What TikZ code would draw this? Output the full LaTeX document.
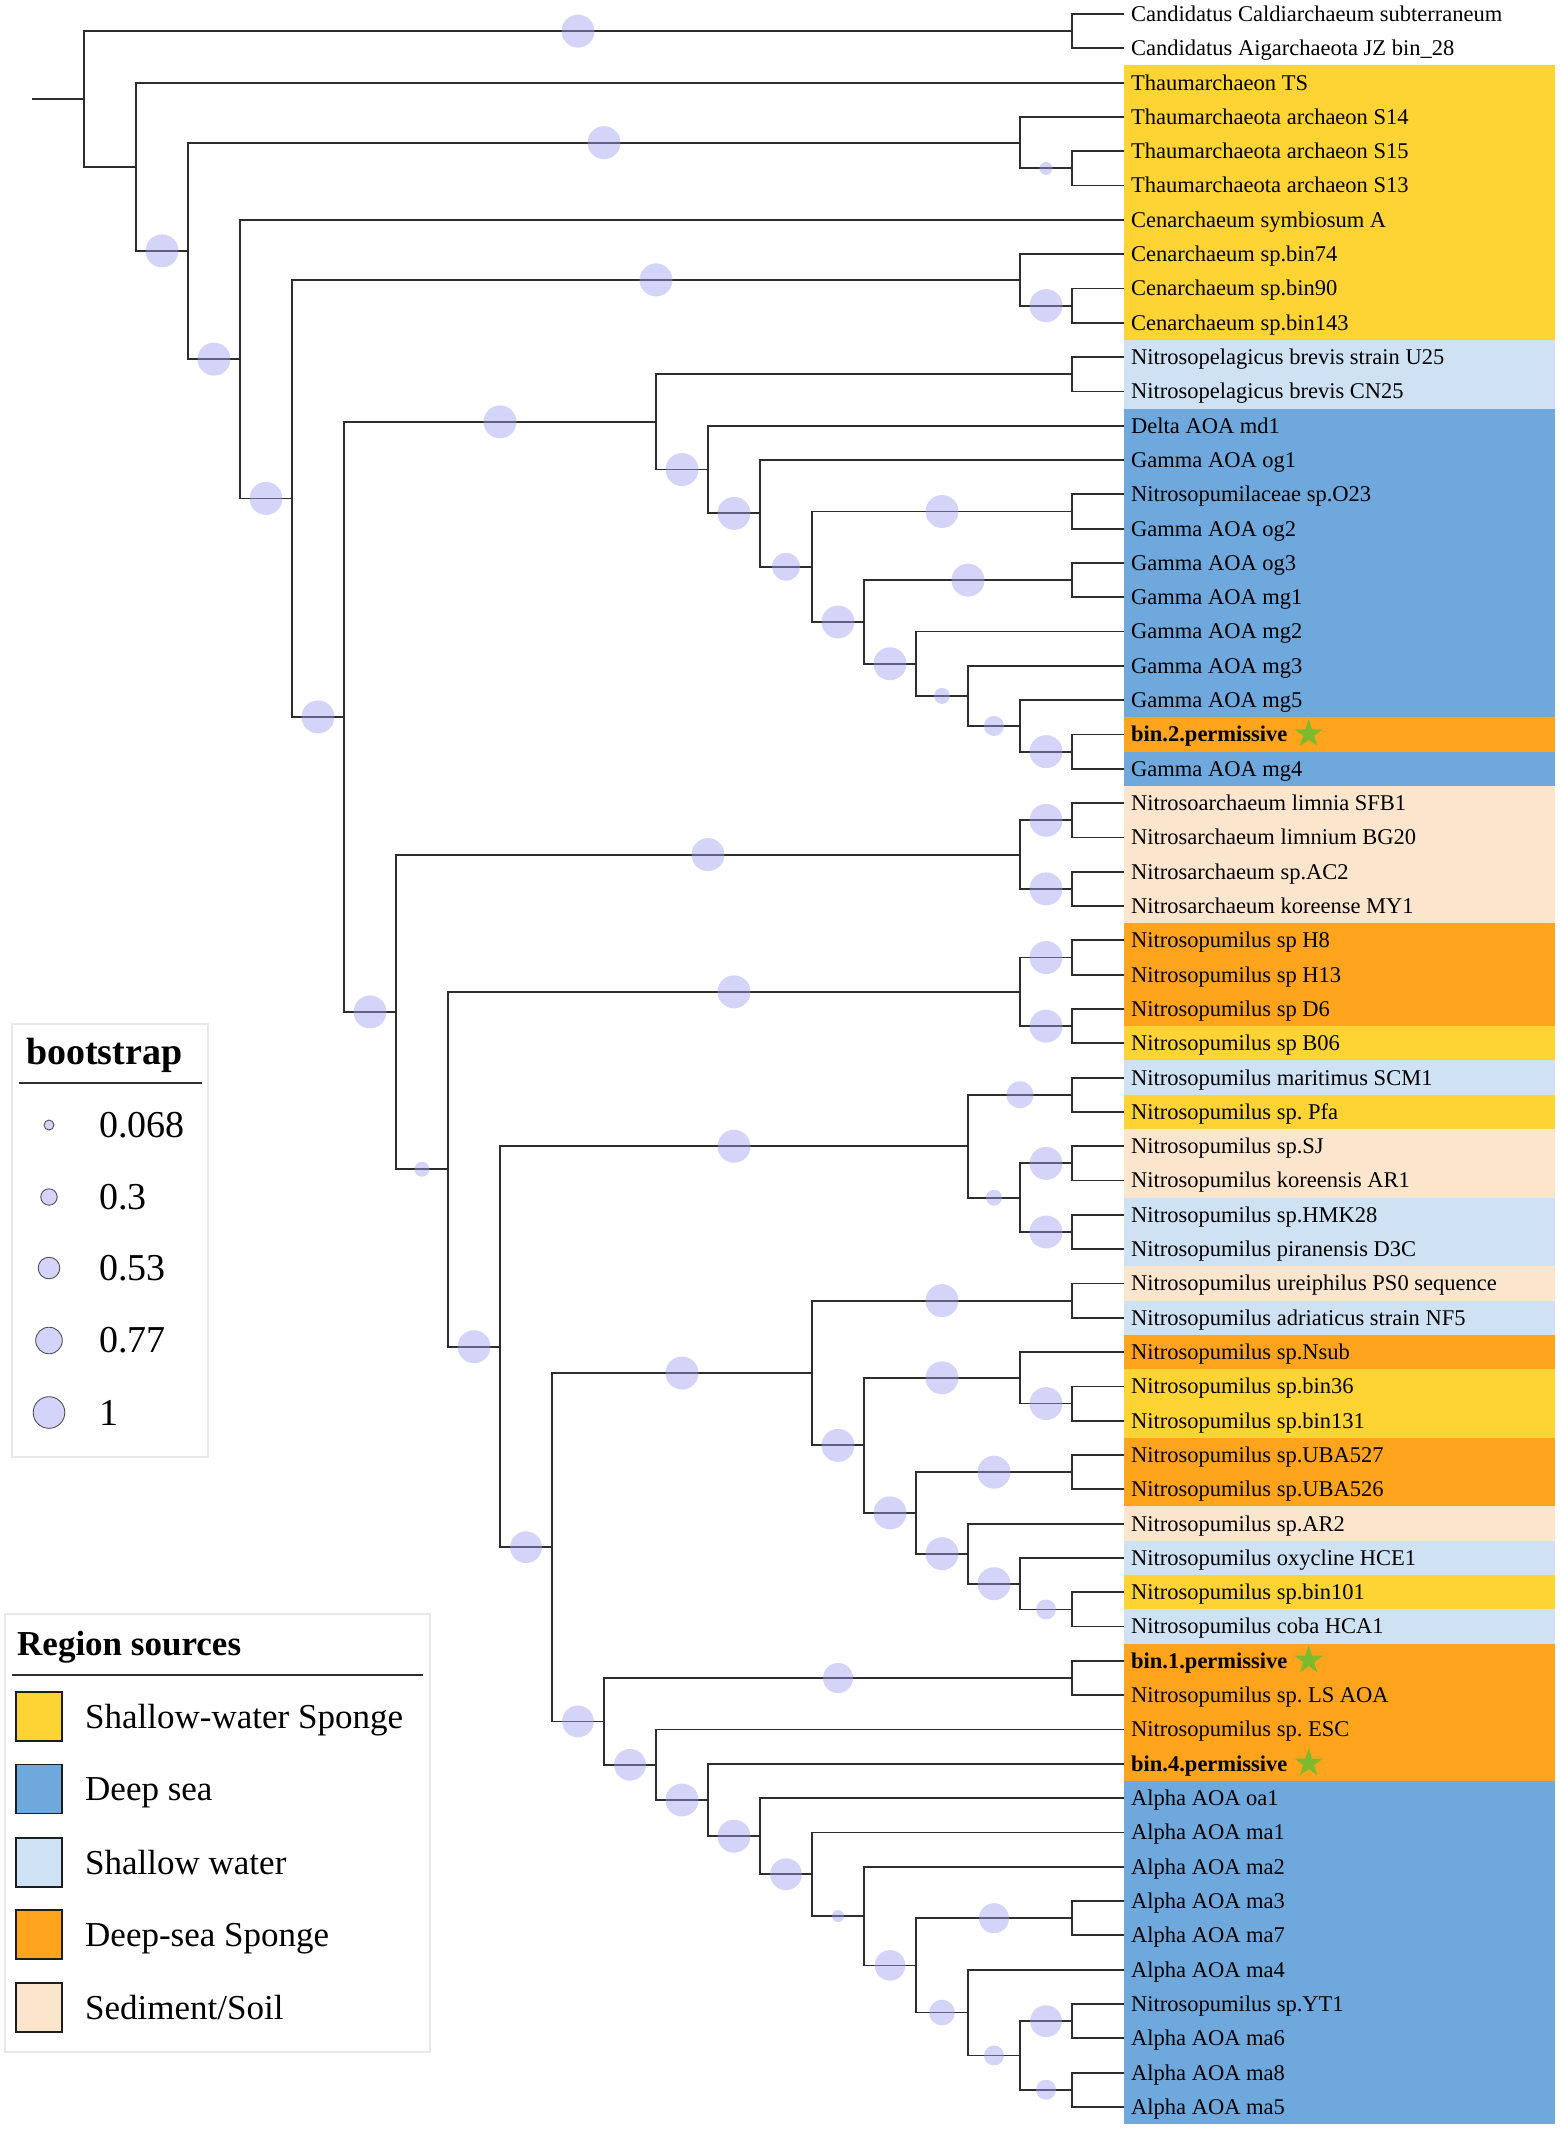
\documentclass[tikz,border=0pt]{standalone}
\usepackage{fontspec}
\setmainfont{Liberation Serif}
\frenchspacing
\usetikzlibrary{calc,shapes.geometric}
\definecolor{sws}{RGB}{254,211,52}
\definecolor{dps}{RGB}{111,168,220}
\definecolor{shw}{RGB}{207,226,243}
\definecolor{dsp}{RGB}{255,164,28}
\definecolor{sed}{RGB}{252,229,205}
\definecolor{brc}{RGB}{45,45,45}
\definecolor{bootf}{RGB}{160,160,240}
\definecolor{legc}{RGB}{212,212,250}
\definecolor{starg}{RGB}{125,186,46}
\definecolor{boxg}{RGB}{232,232,232}
\newcommand\leafpt[1]{\coordinate (l#1) at (1124,{14+(#1-1)*34.31});}
\newcommand\inode[4]{\path let \p1=(#3), \p2=(#4) in ({(32+52*#2)*1pt},{0.5*(\y1+\y2)}) coordinate (#1);}
\newcommand\tedge[2]{\draw[branch] (#1) |- (#2);}
\newcommand\bsc[3]{\node[bootcirc, minimum size={2*(4.5+12*#3)}] (b#2) at ($(#1 |- #2)!0.5!(#2)$) {};}
\newcommand\bandrow[3]{\fill[#3] (1124,{14+(#1-1)*34.31-17.16}) rectangle (1555,{14+(#2-1)*34.31+17.16});}
\newcommand\leaflabel[2]{\node[leaflab] (t#1) at ([xshift=7pt,yshift=-7.4pt]l#1) {#2};}
\newcommand\binlabel[2]{\node[leaflab,font=\fontsize{22.5}{26}\selectfont\bfseries] (t#1) at ([xshift=7pt,yshift=-7.4pt]l#1) {#2};
  \node[starmark] (s#1) at ([xshift=21pt,yshift=8pt]t#1.base east) {};}
\tikzset{
  branch/.style={line width=1.8pt, draw=brc},
  bootcirc/.style={circle, inner sep=0pt, fill=bootf, fill opacity=0.45, draw=none},
  leaflab/.style={anchor=base west, inner sep=0pt, font=\fontsize{22.5}{26}\selectfont},
  starmark/.style={star, star points=5, star point ratio=2.6, fill=starg, draw=none, minimum size=30pt, inner sep=0pt},
  legcirc/.style={circle, inner sep=0pt, fill=legc, draw={rgb,255:red,80;green,80;blue,80}, line width=0.9pt},
  legtxt/.style={anchor=west, inner sep=0pt, font=\fontsize{38}{44}\selectfont},
  swatch/.style={minimum width=46pt, minimum height=49pt, inner sep=0pt, draw={rgb,255:red,30;green,30;blue,30}, line width=1.5pt},
  regtxt/.style={anchor=base west, inner sep=0pt, font=\fontsize{35}{40}\selectfont},
  legbox/.style={draw=boxg, line width=1.5pt}
}
\begin{document}
\begin{tikzpicture}[x=1pt,y=-1pt]
\useasboundingbox (0,0) rectangle (1559,2130);
% leaves
\foreach \i in {1,...,62} {\leafpt{\i}}
% internal nodes (bottom-up)
\inode{nA}{20}{l1}{l2}
\inode{nE}{20}{l5}{l6}
\inode{nD}{19}{l4}{nE}
\inode{nI}{20}{l9}{l10}
\inode{nH}{19}{l8}{nI}
\inode{nL}{20}{l11}{l12}
\inode{nP}{20}{l15}{l16}
\inode{nR}{20}{l17}{l18}
\inode{nV}{20}{l22}{l23}
\inode{nU}{19}{l21}{nV}
\inode{nT}{18}{l20}{nU}
\inode{nS}{17}{l19}{nT}
\inode{nQ}{16}{nR}{nS}
\inode{nO}{15}{nP}{nQ}
\inode{nN}{14}{l14}{nO}
\inode{nM}{13}{l13}{nN}
\inode{nK}{12}{nL}{nM}
\inode{nY}{20}{l24}{l25}
\inode{nZ}{20}{l26}{l27}
\inode{nX}{19}{nY}{nZ}
\inode{nAC}{20}{l28}{l29}
\inode{nAD}{20}{l30}{l31}
\inode{nAB}{19}{nAC}{nAD}
\inode{nAG}{20}{l32}{l33}
\inode{nAI}{20}{l34}{l35}
\inode{nAJ}{20}{l36}{l37}
\inode{nAH}{19}{nAI}{nAJ}
\inode{nAF}{18}{nAG}{nAH}
\inode{nAM}{20}{l38}{l39}
\inode{nAP}{20}{l41}{l42}
\inode{nAO}{19}{l40}{nAP}
\inode{nAR}{20}{l43}{l44}
\inode{nAU}{20}{l47}{l48}
\inode{nAT}{19}{l46}{nAU}
\inode{nAS}{18}{l45}{nAT}
\inode{nAQ}{17}{nAR}{nAS}
\inode{nAN}{16}{nAO}{nAQ}
\inode{nAL}{15}{nAM}{nAN}
\inode{nAW}{20}{l49}{l50}
\inode{nBD}{20}{l56}{l57}
\inode{nBG}{20}{l59}{l60}
\inode{nBH}{20}{l61}{l62}
\inode{nBF}{19}{nBG}{nBH}
\inode{nBE}{18}{l58}{nBF}
\inode{nBC}{17}{nBD}{nBE}
\inode{nBB}{16}{l55}{nBC}
\inode{nBA}{15}{l54}{nBB}
\inode{nAZ}{14}{l53}{nBA}
\inode{nAY}{13}{l52}{nAZ}
\inode{nAX}{12}{l51}{nAY}
\inode{nAV}{11}{nAW}{nAX}
\inode{nAK}{10}{nAL}{nAV}
\inode{nAE}{9}{nAF}{nAK}
\inode{nAA}{8}{nAB}{nAE}
\inode{nW}{7}{nX}{nAA}
\inode{nJ}{6}{nK}{nW}
\inode{nG}{5}{nH}{nJ}
\inode{nF}{4}{l7}{nG}
\inode{nC}{3}{nD}{nF}
\inode{nB}{2}{l3}{nC}
\inode{nRoot}{1}{nA}{nB}
\path let \p1=(nRoot) in (32pt,\y1) coordinate (stub);
% colour bands
\bandrow{3}{10}{sws}
\bandrow{11}{12}{shw}
\bandrow{13}{21}{dps}
\bandrow{22}{22}{dsp}
\bandrow{23}{23}{dps}
\bandrow{24}{27}{sed}
\bandrow{28}{30}{dsp}
\bandrow{31}{31}{sws}
\bandrow{32}{32}{shw}
\bandrow{33}{33}{sws}
\bandrow{34}{35}{sed}
\bandrow{36}{37}{shw}
\bandrow{38}{38}{sed}
\bandrow{39}{39}{shw}
\bandrow{40}{40}{dsp}
\bandrow{41}{42}{sws}
\bandrow{43}{44}{dsp}
\bandrow{45}{45}{sed}
\bandrow{46}{46}{shw}
\bandrow{47}{47}{sws}
\bandrow{48}{48}{shw}
\bandrow{49}{52}{dsp}
\bandrow{53}{62}{dps}
% branches
\draw[branch] (stub) -- (nRoot);
\tedge{nRoot}{nA}\tedge{nRoot}{nB}
\tedge{nA}{l1}\tedge{nA}{l2}
\tedge{nB}{l3}\tedge{nB}{nC}
\tedge{nC}{nD}\tedge{nC}{nF}
\tedge{nD}{l4}\tedge{nD}{nE}
\tedge{nE}{l5}\tedge{nE}{l6}
\tedge{nF}{l7}\tedge{nF}{nG}
\tedge{nG}{nH}\tedge{nG}{nJ}
\tedge{nH}{l8}\tedge{nH}{nI}
\tedge{nI}{l9}\tedge{nI}{l10}
\tedge{nJ}{nK}\tedge{nJ}{nW}
\tedge{nK}{nL}\tedge{nK}{nM}
\tedge{nL}{l11}\tedge{nL}{l12}
\tedge{nM}{l13}\tedge{nM}{nN}
\tedge{nN}{l14}\tedge{nN}{nO}
\tedge{nO}{nP}\tedge{nO}{nQ}
\tedge{nP}{l15}\tedge{nP}{l16}
\tedge{nQ}{nR}\tedge{nQ}{nS}
\tedge{nR}{l17}\tedge{nR}{l18}
\tedge{nS}{l19}\tedge{nS}{nT}
\tedge{nT}{l20}\tedge{nT}{nU}
\tedge{nU}{l21}\tedge{nU}{nV}
\tedge{nV}{l22}\tedge{nV}{l23}
\tedge{nW}{nX}\tedge{nW}{nAA}
\tedge{nX}{nY}\tedge{nX}{nZ}
\tedge{nY}{l24}\tedge{nY}{l25}
\tedge{nZ}{l26}\tedge{nZ}{l27}
\tedge{nAA}{nAB}\tedge{nAA}{nAE}
\tedge{nAB}{nAC}\tedge{nAB}{nAD}
\tedge{nAC}{l28}\tedge{nAC}{l29}
\tedge{nAD}{l30}\tedge{nAD}{l31}
\tedge{nAE}{nAF}\tedge{nAE}{nAK}
\tedge{nAF}{nAG}\tedge{nAF}{nAH}
\tedge{nAG}{l32}\tedge{nAG}{l33}
\tedge{nAH}{nAI}\tedge{nAH}{nAJ}
\tedge{nAI}{l34}\tedge{nAI}{l35}
\tedge{nAJ}{l36}\tedge{nAJ}{l37}
\tedge{nAK}{nAL}\tedge{nAK}{nAV}
\tedge{nAL}{nAM}\tedge{nAL}{nAN}
\tedge{nAM}{l38}\tedge{nAM}{l39}
\tedge{nAN}{nAO}\tedge{nAN}{nAQ}
\tedge{nAO}{l40}\tedge{nAO}{nAP}
\tedge{nAP}{l41}\tedge{nAP}{l42}
\tedge{nAQ}{nAR}\tedge{nAQ}{nAS}
\tedge{nAR}{l43}\tedge{nAR}{l44}
\tedge{nAS}{l45}\tedge{nAS}{nAT}
\tedge{nAT}{l46}\tedge{nAT}{nAU}
\tedge{nAU}{l47}\tedge{nAU}{l48}
\tedge{nAV}{nAW}\tedge{nAV}{nAX}
\tedge{nAW}{l49}\tedge{nAW}{l50}
\tedge{nAX}{l51}\tedge{nAX}{nAY}
\tedge{nAY}{l52}\tedge{nAY}{nAZ}
\tedge{nAZ}{l53}\tedge{nAZ}{nBA}
\tedge{nBA}{l54}\tedge{nBA}{nBB}
\tedge{nBB}{l55}\tedge{nBB}{nBC}
\tedge{nBC}{nBD}\tedge{nBC}{nBE}
\tedge{nBD}{l56}\tedge{nBD}{l57}
\tedge{nBE}{l58}\tedge{nBE}{nBF}
\tedge{nBF}{nBG}\tedge{nBF}{nBH}
\tedge{nBG}{l59}\tedge{nBG}{l60}
\tedge{nBH}{l61}\tedge{nBH}{l62}
% bootstrap circles
\bsc{nRoot}{nA}{1}
\bsc{nB}{nC}{1}
\bsc{nC}{nD}{1}\bsc{nC}{nF}{1}
\bsc{nD}{nE}{0.17}
\bsc{nF}{nG}{1}
\bsc{nG}{nH}{1}\bsc{nG}{nJ}{1}
\bsc{nH}{nI}{1}
\bsc{nJ}{nK}{1}\bsc{nJ}{nW}{1}
\bsc{nK}{nM}{1}
\bsc{nM}{nN}{1}
\bsc{nN}{nO}{0.79}
\bsc{nO}{nP}{1}\bsc{nO}{nQ}{1}
\bsc{nQ}{nR}{1}\bsc{nQ}{nS}{1}
\bsc{nS}{nT}{0.29}
\bsc{nT}{nU}{0.46}
\bsc{nU}{nV}{1}
\bsc{nW}{nX}{1}\bsc{nW}{nAA}{0.25}
\bsc{nX}{nY}{1}\bsc{nX}{nZ}{1}
\bsc{nAA}{nAB}{1}\bsc{nAA}{nAE}{1}
\bsc{nAB}{nAC}{1}\bsc{nAB}{nAD}{1}
\bsc{nAE}{nAF}{1}\bsc{nAE}{nAK}{0.95}
\bsc{nAF}{nAG}{0.75}\bsc{nAF}{nAH}{0.29}
\bsc{nAH}{nAI}{1}\bsc{nAH}{nAJ}{1}
\bsc{nAK}{nAL}{1}\bsc{nAK}{nAV}{0.95}
\bsc{nAL}{nAM}{1}\bsc{nAL}{nAN}{1}
\bsc{nAN}{nAO}{1}\bsc{nAN}{nAQ}{1}
\bsc{nAO}{nAP}{1}
\bsc{nAQ}{nAR}{1}\bsc{nAQ}{nAS}{1}
\bsc{nAS}{nAT}{1}
\bsc{nAT}{nAU}{0.46}
\bsc{nAV}{nAW}{0.88}\bsc{nAV}{nAX}{0.95}
\bsc{nAX}{nAY}{1}
\bsc{nAY}{nAZ}{1}
\bsc{nAZ}{nBA}{0.95}
\bsc{nBA}{nBB}{0.13}
\bsc{nBB}{nBC}{0.9}
\bsc{nBC}{nBD}{0.88}\bsc{nBC}{nBE}{0.7}
\bsc{nBE}{nBF}{0.46}
\bsc{nBF}{nBG}{0.95}\bsc{nBF}{nBH}{0.46}
% leaf labels
\leaflabel{1}{Candidatus Caldiarchaeum subterraneum}
\leaflabel{2}{Candidatus Aigarchaeota JZ bin\_28}
\leaflabel{3}{Thaumarchaeon TS}
\leaflabel{4}{Thaumarchaeota archaeon S14}
\leaflabel{5}{Thaumarchaeota archaeon S15}
\leaflabel{6}{Thaumarchaeota archaeon S13}
\leaflabel{7}{Cenarchaeum symbiosum A}
\leaflabel{8}{Cenarchaeum sp.bin74}
\leaflabel{9}{Cenarchaeum sp.bin90}
\leaflabel{10}{Cenarchaeum sp.bin143}
\leaflabel{11}{Nitrosopelagicus brevis strain U25}
\leaflabel{12}{Nitrosopelagicus brevis CN25}
\leaflabel{13}{Delta AOA md1}
\leaflabel{14}{Gamma AOA og1}
\leaflabel{15}{Nitrosopumilaceae sp.O23}
\leaflabel{16}{Gamma AOA og2}
\leaflabel{17}{Gamma AOA og3}
\leaflabel{18}{Gamma AOA mg1}
\leaflabel{19}{Gamma AOA mg2}
\leaflabel{20}{Gamma AOA mg3}
\leaflabel{21}{Gamma AOA mg5}
\binlabel{22}{bin.2.permissive}
\leaflabel{23}{Gamma AOA mg4}
\leaflabel{24}{Nitrosoarchaeum limnia SFB1}
\leaflabel{25}{Nitrosarchaeum limnium BG20}
\leaflabel{26}{Nitrosarchaeum sp.AC2}
\leaflabel{27}{Nitrosarchaeum koreense MY1}
\leaflabel{28}{Nitrosopumilus sp H8}
\leaflabel{29}{Nitrosopumilus sp H13}
\leaflabel{30}{Nitrosopumilus sp D6}
\leaflabel{31}{Nitrosopumilus sp B06}
\leaflabel{32}{Nitrosopumilus maritimus SCM1}
\leaflabel{33}{Nitrosopumilus sp. Pfa}
\leaflabel{34}{Nitrosopumilus sp.SJ}
\leaflabel{35}{Nitrosopumilus koreensis AR1}
\leaflabel{36}{Nitrosopumilus sp.HMK28}
\leaflabel{37}{Nitrosopumilus piranensis D3C}
\leaflabel{38}{Nitrosopumilus ureiphilus PS0 sequence}
\leaflabel{39}{Nitrosopumilus adriaticus strain NF5}
\leaflabel{40}{Nitrosopumilus sp.Nsub}
\leaflabel{41}{Nitrosopumilus sp.bin36}
\leaflabel{42}{Nitrosopumilus sp.bin131}
\leaflabel{43}{Nitrosopumilus sp.UBA527}
\leaflabel{44}{Nitrosopumilus sp.UBA526}
\leaflabel{45}{Nitrosopumilus sp.AR2}
\leaflabel{46}{Nitrosopumilus oxycline HCE1}
\leaflabel{47}{Nitrosopumilus sp.bin101}
\leaflabel{48}{Nitrosopumilus coba HCA1}
\binlabel{49}{bin.1.permissive}
\leaflabel{50}{Nitrosopumilus sp. LS AOA}
\leaflabel{51}{Nitrosopumilus sp. ESC}
\binlabel{52}{bin.4.permissive}
\leaflabel{53}{Alpha AOA oa1}
\leaflabel{54}{Alpha AOA ma1}
\leaflabel{55}{Alpha AOA ma2}
\leaflabel{56}{Alpha AOA ma3}
\leaflabel{57}{Alpha AOA ma7}
\leaflabel{58}{Alpha AOA ma4}
\leaflabel{59}{Nitrosopumilus sp.YT1}
\leaflabel{60}{Alpha AOA ma6}
\leaflabel{61}{Alpha AOA ma8}
\leaflabel{62}{Alpha AOA ma5}
% bootstrap legend
\draw[legbox] (12,1024) rectangle (208,1457);
\node[anchor=base west, inner sep=0pt, font=\fontsize{38}{44}\selectfont\bfseries] (bttl) at (26,1064) {bootstrap};
\draw[line width=1.5pt, brc] (19,1083) -- (202,1083);
\node[legcirc, minimum size=10pt] (lc1) at (49,1125) {};
\node[legcirc, minimum size=16.4pt] (lc2) at (49,1197) {};
\node[legcirc, minimum size=21.6pt] (lc3) at (49,1268) {};
\node[legcirc, minimum size=26.6pt] (lc4) at (49,1340.5) {};
\node[legcirc, minimum size=31.6pt] (lc5) at (49,1412.5) {};
\node[legtxt] (lv1) at (99,1125) {0.068};
\node[legtxt] (lv2) at (99,1197) {0.3};
\node[legtxt] (lv3) at (99,1268) {0.53};
\node[legtxt] (lv4) at (99,1340.5) {0.77};
\node[legtxt] (lv5) at (99,1412.5) {1};
% region legend
\draw[legbox] (5,1614) rectangle (430,2052);
\node[anchor=base west, inner sep=0pt, font=\fontsize{35}{40}\selectfont\bfseries] (rttl) at (17,1655) {Region sources};
\draw[line width=1.5pt, brc] (12,1675) -- (423,1675);
\node[swatch, fill=sws] (sw1) at (39,1716.5) {};
\node[swatch, fill=dps] (sw2) at (39,1789) {};
\node[swatch, fill=shw] (sw3) at (39,1862.5) {};
\node[swatch, fill=dsp] (sw4) at (39,1934.5) {};
\node[swatch, fill=sed] (sw5) at (39,2007.5) {};
\node[regtxt] (rl1) at (85,1728.1) {Shallow-water Sponge};
\node[regtxt] (rl2) at (85,1800.6) {Deep sea};
\node[regtxt] (rl3) at (85,1874.1) {Shallow water};
\node[regtxt] (rl4) at (85,1946.1) {Deep-sea Sponge};
\node[regtxt] (rl5) at (85,2019.1) {Sediment/Soil};
\end{tikzpicture}
\end{document}
